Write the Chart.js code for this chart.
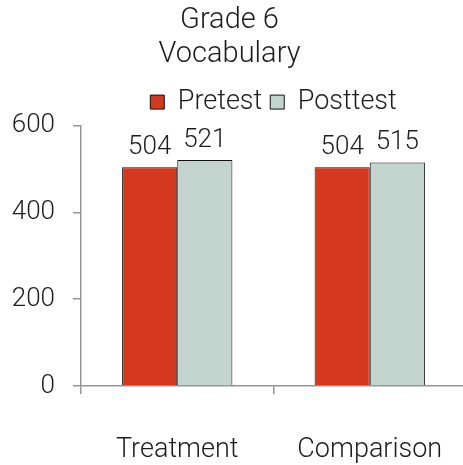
<!DOCTYPE html>
<html>
<head>
<meta charset="utf-8">
<script src="https://cdn.jsdelivr.net/npm/chart.js@4"></script>
<style>
  html, body { margin: 0; padding: 0; background: #fff; overflow: hidden; }
  #wrap { position: absolute; left: 0; top: 0; width: 466px; height: 465px; }
</style>
</head>
<body>
<div id="wrap"><canvas id="chart"></canvas></div>
<script>
// values
const categories = ['Treatment', 'Comparison'];
const pretest = [504, 504];
const posttest = [521, 515];
const yTicks = [0, 200, 400, 600];

const FONT = 'Roboto, "Liberation Sans", sans-serif';
const AXIS = '#959595';
const TEXT = '#1c1c1c';

// value labels above each bar
const barLabels = {
    id: 'barLabels',
    afterDatasetsDraw(chart) {
        const ctx = chart.ctx;
        ctx.save();
        ctx.font = '300 26px ' + FONT;
        ctx.fillStyle = TEXT;
        ctx.textAlign = 'center';
        ctx.textBaseline = 'alphabetic';
        chart.data.datasets.forEach((ds, i) => {
            chart.getDatasetMeta(i).data.forEach((bar, j) => {
                ctx.fillText(ds.data[j], bar.x, bar.y - 13);
            });
        });
        ctx.restore();
    }
};

new Chart(document.getElementById('chart'), {
    type: 'bar',
    data: {
        labels: categories,
        datasets: [
            {
                label: 'Pretest',
                data: pretest,
                backgroundColor: '#d4381d',
                borderColor: '#111',
                borderWidth: 1,
                categoryPercentage: 0.573,
                barPercentage: 1.0
            },
            {
                label: 'Posttest',
                data: posttest,
                backgroundColor: '#c2d4ce',
                borderColor: '#111',
                borderWidth: 1,
                categoryPercentage: 0.573,
                barPercentage: 1.0
            }
        ]
    },
    options: {
        responsive: true,
        maintainAspectRatio: false,
        animation: false,
        layout: { padding: { left: -7, right: 0, top: 0, bottom: 0 } },
        plugins: {
            title: {
                display: true,
                text: ['Grade 6', 'Vocabulary'],
                color: TEXT,
                font: { family: FONT, size: 29, weight: 300, lineHeight: 1.2 },
                padding: { top: 3, bottom: 8 }
            },
            legend: {
                display: true,
                fullSize: false,
                labels: {
                    color: TEXT,
                    font: { family: FONT, size: 27, weight: 300 },
                    boxWidth: 14,
                    boxHeight: 14,
                    padding: 8
                }
            },
            tooltip: { enabled: false }
        },
        scales: {
            x: {
                afterFit: s => { s.paddingLeft = 0; s.paddingRight = 0; s.height = 79; },
                grid: {
                    drawOnChartArea: false,
                    offset: true,
                    color: AXIS,
                    tickLength: 8,
                    lineWidth: 1.5
                },
                border: { color: AXIS, width: 1.5 },
                ticks: {
                    color: TEXT,
                    font: { family: FONT, size: 27, weight: 300 },
                    padding: 40,
                    maxRotation: 0
                }
            },
            y: {
                min: 0,
                max: 600,
                afterBuildTicks: s => { s.ticks = yTicks.map(v => ({ value: v })); },
                afterFit: s => { s.paddingTop = 0; s.paddingBottom = 0; s.width = 88; },
                grid: {
                    drawOnChartArea: false,
                    color: AXIS,
                    tickLength: 8,
                    lineWidth: 1.5
                },
                border: { color: AXIS, width: 1.5 },
                ticks: {
                    color: TEXT,
                    font: { family: FONT, size: 26, weight: 300 },
                    padding: 18
                }
            }
        }
    },
    plugins: [barLabels]
});
</script>
</body>
</html>
